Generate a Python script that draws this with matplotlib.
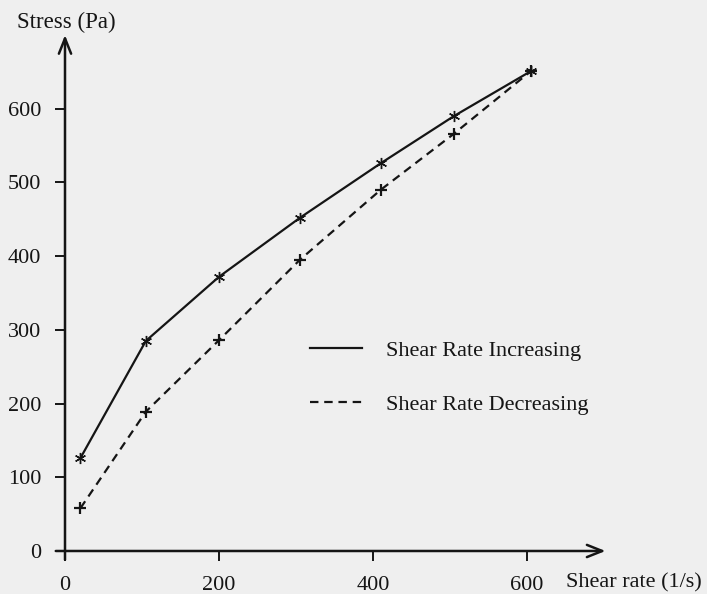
import matplotlib.pyplot as plt

# Data
shear_rate = [20, 105, 200, 305, 410, 505, 605]
stress_increasing = [126, 285, 372, 452, 526, 590, 651]
stress_decreasing = [58, 189, 286, 395, 490, 566, 651]

x_ticks = [0, 200, 400, 600]
y_ticks = [0, 100, 200, 300, 400, 500, 600]

plt.rcParams['font.family'] = ['Liberation Serif', 'DejaVu Serif']
ink = '#151515'
bg = '#efefef'

fig = plt.figure(figsize=(7.07, 5.94), dpi=100, facecolor=bg)
ax = fig.add_axes([0.0756, 0.0538, 0.7896, 0.8934], facecolor=bg)
ax.set_xlim(-15, 710)
ax.set_ylim(-15, 705)

# Curves
ax.plot(shear_rate, stress_increasing, color=ink, lw=1.6,
        label='Shear Rate Increasing')
ax.plot(shear_rate, stress_decreasing, color=ink, lw=1.6,
        ls=(0, (3.8, 2.6)), label='Shear Rate Decreasing')
ax.plot(shear_rate, stress_increasing, ls='none', marker=(6, 2, 0),
        ms=8, mew=1.0, color=ink)
ax.plot(shear_rate, stress_decreasing, ls='none', marker='+',
        ms=9, mew=1.6, color=ink)

# Axes drawn as arrows crossing at the origin
for s in ax.spines.values():
    s.set_visible(False)
ax.spines['left'].set_position(('data', 0))
ax.spines['bottom'].set_position(('data', 0))
arrow = dict(arrowstyle='->,head_length=0.55,head_width=0.22', lw=1.8,
             color=ink, shrinkA=0, shrinkB=0, mutation_scale=20)
ax.annotate('', xy=(702, 0), xytext=(-12, 0), arrowprops=arrow)
ax.annotate('', xy=(0, 700), xytext=(0, -12), arrowprops=arrow)

ax.set_xticks(x_ticks)
ax.set_yticks(y_ticks)
ax.tick_params(axis='both', direction='out', length=7, width=1.4,
               color=ink, labelcolor=ink, labelsize=16)
ax.tick_params(axis='x', pad=11)
ax.tick_params(axis='y', pad=10)

# Axis titles
fig.text(0.024, 0.962, 'Stress (Pa)', fontsize=16.5, color=ink,
         ha='left', va='center')
fig.text(0.800, 0.018, 'Shear rate (1/s)', fontsize=16, color=ink,
         ha='left', va='center')

# Legend
ax.legend(loc='upper left', bbox_to_anchor=(0.424, 0.455), frameon=False,
          fontsize=16, handlelength=2.35, handletextpad=1.05,
          labelspacing=1.5, labelcolor=ink)

plt.savefig('out.png', dpi=100, facecolor=bg)
